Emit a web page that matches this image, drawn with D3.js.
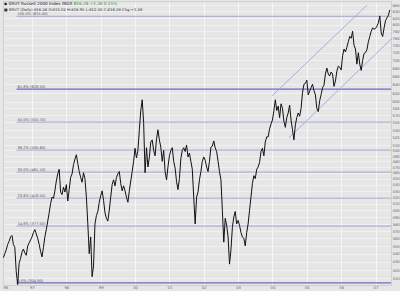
<!DOCTYPE html>
<html>
<head>
<meta charset="utf-8">
<script src="https://cdn.jsdelivr.net/npm/d3@7"></script>
<style>
  body { margin: 0; background: #e6e6e6; }
  svg { display: block; font-family: "DejaVu Sans", sans-serif; }
</style>
</head>
<body>
<svg id="Chart"></svg>
<script>
// $RUT, semi-monthly closes from Mar 1996
let firstDate = 1996 + 2 / 12
let dateStep = 1 / 24
let closes = [
  // 1996 (Mar - Dec)
  335, 340, 345, 352, 356, 362, 364, 352, 348, 318, 303, 328, 334, 342, 346, 341, 338, 350, 354, 358,
  // 1997
  362, 368, 372, 366, 360, 352, 343, 336, 348, 362, 372, 384, 396, 410, 420, 418, 430, 446, 458, 466, 428, 424, 436, 428,
  // 1998
  440, 414, 432, 452, 458, 474, 484, 492, 476, 462, 452, 444, 460, 450, 420, 380, 340, 362, 312, 325, 380, 392, 398, 412,
  // 1999
  422, 430, 415, 396, 388, 384, 400, 420, 440, 448, 438, 452, 458, 462, 442, 430, 438, 430, 420, 412, 430, 446, 462, 480,
  // 2000
  504, 486, 500, 540, 580, 604, 555, 460, 505, 470, 488, 516, 520, 500, 490, 522, 540, 520, 506, 480, 500, 462, 448, 470,
  // 2001
  490, 500, 505, 480, 468, 445, 432, 450, 485, 500, 505, 498, 510, 488, 495, 480, 466, 420, 380, 420, 428, 448, 462, 480,
  // 2002
  488, 482, 470, 462, 480, 506, 508, 518, 505, 498, 480, 462, 448, 400, 355, 388, 378, 362, 327, 345, 375, 390, 398, 380,
  // 2003
  385, 378, 368, 362, 360, 350, 368, 380, 400, 420, 442, 455, 450, 466, 470, 478, 498, 504, 490, 516, 526, 526, 542, 552,
  // 2004
  560, 580, 604, 580, 590, 565, 595, 585, 558, 545, 565, 575, 592, 560, 540, 520, 550, 565, 575, 568, 585, 620, 640, 642,
  // 2005
  650, 615, 624, 632, 640, 625, 615, 585, 578, 602, 616, 632, 638, 665, 680, 665, 660, 670, 665, 635, 648, 672, 685, 682,
  // 2006
  675, 712, 730, 722, 735, 750, 765, 760, 780, 740, 730, 690, 720, 690, 674, 700, 718, 720, 728, 750, 765, 780, 790, 786,
  // 2007 (Jan - Jun 1)
  788, 795, 805, 826, 775, 765, 790, 812, 820, 828, 845
]

let yTicks = [310, 320, 330, 340, 350, 360, 370, 380, 390, 400, 410, 420, 430, 440, 450, 460, 470, 480, 490, 500,
  510, 525, 540, 555, 570, 585, 600, 620, 640, 660, 680, 700, 720, 740, 760, 780, 800, 820, 840, 860]
let yearTicks = [1996, 1997, 1998, 1999, 2000, 2001, 2002, 2003, 2004, 2005, 2006, 2007]
let yearLabels = ["96", "97", "98", "99", "00", "01", "02", "03", "04", "05", "06", "07"]

// retracement levels, drawn from the Jul 1996 low
let fibStart = 1996.55
let fibValues = [825.0, 628.5, 555.7, 500.6, 461.1, 418.5, 377.0, 304.9]
let fibLabels = ["100.0% (825.00)", "61.8% (628.50)", "50.0% (555.70)", "38.2% (500.60)",
  "30.0% (461.10)", "23.6% (418.50)", "14.6% (377.00)", "0.0% (304.90)"]
let fibHeavy = [false, true, false, false, false, false, false, true]

// trend channel: [date, value] end points
let channelUpper = [[2003.99, 613], [2006.75, 860]]
let channelLower = [[2004.48, 524], [2007.48, 760]]

let titleText = "$RUT Russell 2000 Index  INDX"
let titleChange = "816.28  +1.26  0.15%"
let subText = "$RUT (Daily) 816.28  O:815.02 H:818.91 L:812.40 C:816.28 Chg:+1.26"

function getConfig(){
    let width = 400
    let height = 291
    let plot = { left: 3, right: 391, top: 1, bottom: 285 }
    let container = d3.select("#Chart")
    container.attr("width", width).attr("height", height)
    return { width, height, plot, container }
}

function getScales(config){
    let { plot } = config
    let xScale = d3.scaleLinear()
        .domain([1996.156, 2007.451])
        .range([plot.left, plot.right])
    let yScale = d3.scaleLog()
        .domain([302.5, 873.4])
        .range([plot.bottom, plot.top])
    return { xScale, yScale }
}

function drawGrid(scales, config){
    let { xScale, yScale } = scales
    let { container, plot } = config
    container.append("rect")
        .attr("x", 0).attr("y", 0)
        .attr("width", config.width).attr("height", config.height)
        .attr("fill", "#e6e6e6")
    let grid = container.append("g")
    grid.selectAll(".hgrid").data(yTicks).enter().append("line")
        .attr("x1", plot.left).attr("x2", plot.right)
        .attr("y1", d => Math.round(yScale(d)) + 0.5)
        .attr("y2", d => Math.round(yScale(d)) + 0.5)
        .attr("stroke", "#f1f1f1").attr("stroke-width", 1)
    grid.selectAll(".vgrid").data(yearTicks.slice(1)).enter().append("line")
        .attr("x1", d => Math.round(xScale(d)) + 0.5)
        .attr("x2", d => Math.round(xScale(d)) + 0.5)
        .attr("y1", plot.top).attr("y2", plot.bottom)
        .attr("stroke", "#f6f6f6").attr("stroke-width", 1)
    container.append("rect")
        .attr("x", plot.left + 0.5).attr("y", plot.top + 0.5)
        .attr("width", plot.right - plot.left).attr("height", plot.bottom - plot.top)
        .attr("fill", "none").attr("stroke", "#d0d0d0")
}

function drawAxes(scales, config){
    let { xScale, yScale } = scales
    let { container, plot } = config
    let axisY = d3.axisRight(yScale)
        .tickValues(yTicks)
        .tickSize(0)
        .tickPadding(1.5)
        .tickFormat(d3.format("d"))
    let gy = container.append("g")
        .attr("transform", `translate(${plot.right},0)`)
        .call(axisY)
    let axisX = d3.axisBottom(xScale)
        .tickValues(yearTicks)
        .tickSize(0)
        .tickPadding(1)
        .tickFormat((d, i) => yearLabels[i])
    let gx = container.append("g")
        .attr("transform", `translate(0,${plot.bottom})`)
        .call(axisX)
    gx.selectAll(".tick").filter(d => xScale(d) < plot.left + 3)
        .attr("transform", `translate(${plot.left + 3},0)`)
    for (let g of [gx, gy]) {
        g.select(".domain").remove()
        g.selectAll("text").attr("font-size", "3.8px").attr("fill", "#666")
            .attr("font-family", "DejaVu Sans")
    }
}

function drawFibs(scales, config){
    let { xScale, yScale } = scales
    let { container, plot } = config
    let body = container.append("g")
    let rows = fibValues.map((v, i) => ({ v: v, label: fibLabels[i], heavy: fibHeavy[i] }))
    body.selectAll(".fib").data(rows).enter().append("line")
        .attr("x1", xScale(fibStart)).attr("x2", plot.right)
        .attr("y1", d => yScale(d.v)).attr("y2", d => yScale(d.v))
        .attr("stroke", d => d.heavy ? "#6a6ac4" : "#9a9ad8")
        .attr("stroke-width", d => d.heavy ? 1.3 : 0.9)
    body.selectAll(".fibLabel").data(rows).enter().append("text")
        .attr("x", xScale(fibStart) + 1)
        .attr("y", d => yScale(d.v) - 1.2)
        .attr("font-size", "3.6px").attr("fill", "#555")
        .text(d => d.label)
}

function drawChannel(scales, config){
    let { xScale, yScale } = scales
    let { container } = config
    let line = d3.line().x(d => xScale(d[0])).y(d => yScale(d[1]))
    container.append("g").selectAll("path").data([channelUpper, channelLower]).enter().append("path")
        .attr("d", line)
        .attr("fill", "none")
        .attr("stroke", "#8f9fe6")
        .attr("stroke-width", 0.8)
}

function drawPrice(scales, config){
    let { xScale, yScale } = scales
    let { container } = config
    let line = d3.line()
        .x((d, i) => xScale(firstDate + i * dateStep))
        .y(d => yScale(d))
    container.append("path")
        .datum(closes)
        .attr("d", line)
        .attr("fill", "none")
        .attr("stroke", "#111")
        .attr("stroke-width", 1)
        .attr("stroke-linejoin", "miter")
}

function drawHeader(config){
    let { container } = config
    let t = container.append("text").attr("x", 4).attr("y", 5)
        .attr("font-size", "4.2px").attr("fill", "#222")
    t.append("tspan").text("\u25C6 " + titleText + "  ")
    t.append("tspan").attr("fill", "#1a9a1a").text(titleChange)
    container.append("text").attr("x", 4).attr("y", 10.5)
        .attr("font-size", "3.8px").attr("fill", "#333")
        .text("\u25A0 " + subText)
}

function drawChart(){
    let config = getConfig()
    let scales = getScales(config)
    drawGrid(scales, config)
    drawFibs(scales, config)
    drawChannel(scales, config)
    drawPrice(scales, config)
    drawAxes(scales, config)
    drawHeader(config)
}
drawChart()
</script>
</body>
</html>
